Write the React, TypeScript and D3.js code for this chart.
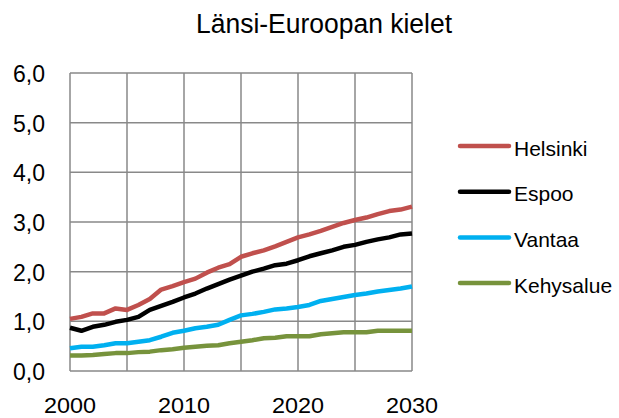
import React from "react";
import * as d3 from "d3";

const years = d3.range(2000, 2031);
const helsinki = [1.05,1.09,1.16,1.16,1.26,1.23,1.33,1.45,1.64,1.71,1.79,1.86,1.98,2.08,2.15,2.30,2.37,2.43,2.51,2.60,2.69,2.75,2.82,2.90,2.98,3.04,3.09,3.16,3.22,3.25,3.31];
const espoo = [0.87,0.81,0.89,0.93,0.99,1.03,1.09,1.23,1.31,1.39,1.48,1.56,1.66,1.75,1.84,1.92,2.00,2.06,2.13,2.16,2.23,2.31,2.37,2.43,2.50,2.54,2.60,2.65,2.69,2.75,2.77];
const vantaa = [0.46,0.49,0.49,0.52,0.56,0.56,0.59,0.62,0.69,0.77,0.81,0.86,0.89,0.93,1.03,1.12,1.15,1.19,1.24,1.26,1.29,1.33,1.41,1.45,1.49,1.53,1.56,1.60,1.63,1.66,1.70];
const kehysalue = [0.31,0.31,0.32,0.34,0.36,0.36,0.38,0.39,0.42,0.44,0.47,0.49,0.51,0.52,0.56,0.59,0.62,0.66,0.67,0.70,0.70,0.70,0.74,0.76,0.78,0.78,0.78,0.81,0.81,0.81,0.81];

const seriesNames = ["Helsinki", "Espoo", "Vantaa", "Kehysalue"];
const seriesData = [helsinki, espoo, vantaa, kehysalue];
const colors = ["#c0504d", "#000000", "#00b0f0", "#77933c"];
const yTicks = [0, 1, 2, 3, 4, 5, 6];
const xGridTicks = [2000, 2005, 2010, 2015, 2020, 2025, 2030];
const xLabelTicks = [2000, 2010, 2020, 2030];
const title = "Länsi-Euroopan kielet";

export default function App() {
  const W = 619, H = 418;
  const left = 70, right = 412, top = 73, bottom = 371;
  const x = d3.scaleLinear().domain([2000, 2030]).range([left, right]);
  const y = d3.scaleLinear().domain([0, 6]).range([bottom, top]);
  const line = d3.line<number>().x((_, i) => x(years[i])).y((d) => y(d));
  const font = "'Liberation Sans', Arial, sans-serif";
  const fmt = (v: number) => v.toFixed(1).replace(".", ",");
  return (
    <svg width={W} height={H} style={{ position: "absolute", left: 0, top: 0 }}>
      <rect width={W} height={H} fill="#fff" />
      <text x={324} y={33} textAnchor="middle" fontFamily={font} fontSize={27} fill="#000" textLength={256} lengthAdjust="spacingAndGlyphs">{title}</text>
      {yTicks.map((t) => (
        <line key={"y" + t} x1={left} x2={right} y1={y(t)} y2={y(t)} stroke="#898989" strokeWidth={1.5} />
      ))}
      {xGridTicks.map((t) => (
        <line key={"x" + t} x1={x(t)} x2={x(t)} y1={top} y2={bottom} stroke="#898989" strokeWidth={1.5} />
      ))}
      {yTicks.map((t) => (
        <text key={"yl" + t} x={45} y={y(t) + 9} textAnchor="end" fontFamily={font} fontSize={23} fill="#000">{fmt(t)}</text>
      ))}
      {xLabelTicks.map((t) => (
        <text key={"xl" + t} x={x(t)} y={413} textAnchor="middle" fontFamily={font} fontSize={22} fill="#000" textLength={52} lengthAdjust="spacingAndGlyphs">{t}</text>
      ))}
      {seriesData.map((s, i) => (
        <path key={"s" + i} d={line(s) || ""} fill="none" stroke={colors[i]} strokeWidth={4.5} strokeLinejoin="round" />
      ))}
      {seriesNames.map((n, i) => {
        const ly = 146 + i * 45.7;
        return (
          <g key={"lg" + i}>
            <line x1={460} x2={509} y1={ly} y2={ly} stroke={colors[i]} strokeWidth={4.5} strokeLinecap="round" />
            <text x={514} y={ly + 9.5} fontFamily={font} fontSize={21} fill="#000">{n}</text>
          </g>
        );
      })}
    </svg>
  );
}
